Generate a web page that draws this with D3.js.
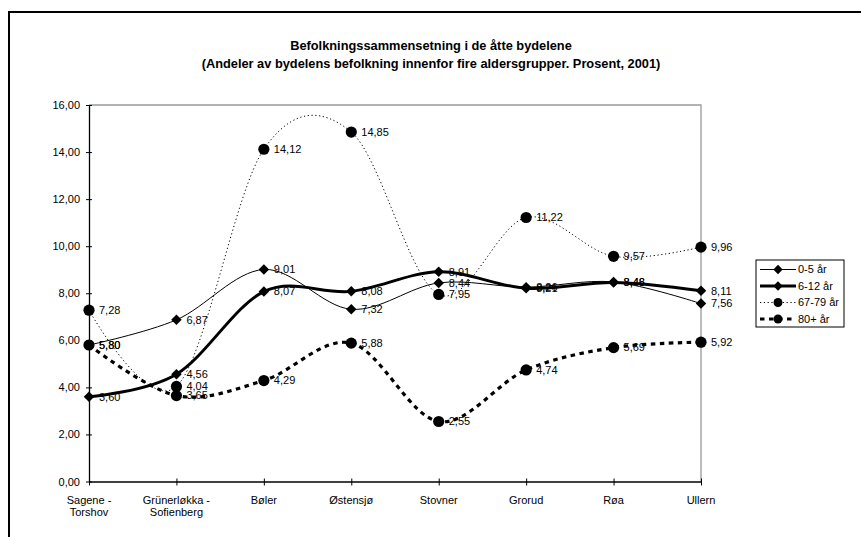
<!DOCTYPE html>
<html><head><meta charset="utf-8">
<script src="https://cdn.jsdelivr.net/npm/d3@7"></script>
<style>
body{margin:0;background:#fff;}
svg text{font-family:"Liberation Sans",Arial,sans-serif;}
</style></head>
<body><svg id="c" width="861" height="537"></svg>
<script>
const categories = [["Sagene -","Torshov"],["Grünerløkka -","Sofienberg"],["Bøler"],["Østensjø"],["Stovner"],["Grorud"],["Røa"],["Ullern"]];
const age0_5   = [5.80, 6.87, 9.01, 7.32, 8.44, 8.26, 8.48, 7.56];
const age6_12  = [3.60, 4.56, 8.07, 8.08, 8.91, 8.21, 8.46, 8.11];
const age67_79 = [7.28, 4.04, 14.12, 14.85, 7.95, 11.22, 9.57, 9.96];
const age80    = [5.80, 3.65, 4.29, 5.88, 2.55, 4.74, 5.69, 5.92];
const seriesNames = ["0-5 år","6-12 år","67-79 år","80+ år"];
const yTicks = [0,2,4,6,8,10,12,14,16];
const titleLines = ["Befolkningssammensetning i de åtte bydelene","(Andeler av bydelens befolkning innenfor fire aldersgrupper. Prosent, 2001)"];

const series = [
  {name:seriesNames[0], values:age0_5, width:1, dash:null, marker:"diamond"},
  {name:seriesNames[1], values:age6_12, width:3, dash:null, marker:"diamond"},
  {name:seriesNames[2], values:age67_79, width:1, dash:"1.2,2.6", marker:"circle"},
  {name:seriesNames[3], values:age80, width:3.2, dash:"4.5,4.5", marker:"circle"}
];

const svg = d3.select("#c");
// outer chart frame
svg.append("rect").attr("x",9).attr("y",12).attr("width",900).attr("height",600)
  .attr("fill","none").attr("stroke","#000").attr("stroke-width",2);

// titles
svg.selectAll("text.title").data(titleLines).join("text")
  .attr("x",431).attr("y",(d,i)=>50+i*18).attr("text-anchor","middle")
  .attr("font-size","12.8px").attr("font-weight","bold").text(d=>d);

const L=89, R=701, T=105, B=481.5;
const x = d3.scalePoint().domain(d3.range(categories.length)).range([L,R]);
const y = d3.scaleLinear().domain([0,16]).range([B,T]);
const fmt = v => d3.format(".2f")(v).replace(".",",");

// plot area border (top & right gray)
svg.append("path").attr("d",`M${L},${T}H${R}V${B}`).attr("fill","none").attr("stroke","#999").attr("stroke-width",1.3);

// y axis
const ya = svg.append("g").attr("transform",`translate(${L},0)`)
  .call(d3.axisLeft(y).tickValues(yTicks).tickFormat(fmt).tickSizeInner(3).tickSizeOuter(0).tickPadding(6));
ya.select(".domain").attr("stroke","#000").attr("stroke-width",1.3);
ya.selectAll(".tick line").attr("x1",3).attr("x2",-3).attr("stroke","#000");
ya.selectAll(".tick text").attr("font-size","11px").attr("fill","#000").attr("font-family","Liberation Sans, Arial, sans-serif");

// x axis
const xa = svg.append("g").attr("transform",`translate(0,${B})`)
  .call(d3.axisBottom(x).tickSizeInner(3).tickSizeOuter(0).tickFormat(""));
xa.select(".domain").attr("stroke","#000").attr("stroke-width",1.3);
xa.selectAll(".tick line").attr("y1",-3).attr("y2",4).attr("stroke","#000");
const xl = svg.append("g");
categories.forEach((lines,i)=>{
  const t = xl.append("text").attr("x",x(i)).attr("y",B+22).attr("text-anchor","middle").attr("font-size","11px");
  lines.forEach((ln,j)=>t.append("tspan").attr("x",x(i)).attr("dy",j?12:0).text(ln));
});

const line = d3.line().x((d,i)=>x(i)).y(d=>y(d)).curve(d3.curveCardinal.tension(0));

function marker(g, type, cx, cy, scale){
  if(type==="diamond"){
    g.append("path").attr("d",d3.symbol().type(d3.symbolSquare).size(55*(scale||1))()).attr("transform",`translate(${cx},${cy}) rotate(45)`).attr("fill","#000");
  } else {
    g.append("circle").attr("cx",cx).attr("cy",cy).attr("r",5.6*(scale||1)).attr("fill","#000");
  }
}

const plot = svg.append("g");
series.forEach(s=>{
  plot.append("path").attr("d",line(s.values)).attr("fill","none").attr("stroke","#000")
    .attr("stroke-width",s.width).attr("stroke-dasharray",s.dash);
});
series.forEach(s=>{
  s.values.forEach((v,i)=>marker(plot,s.marker,x(i),y(v)));
});
series.forEach(s=>{
  plot.selectAll(null).data(s.values).join("text")
    .attr("x",(d,i)=>x(i)+10).attr("y",d=>y(d)).attr("dy","0.35em")
    .attr("font-size","11px").text(d=>fmt(d));
});

// legend
const lg = svg.append("g");
lg.append("rect").attr("x",756).attr("y",260).attr("width",88).attr("height",67).attr("fill","#fff").attr("stroke","#000").attr("stroke-width",1);
series.forEach((s,i)=>{
  const yy = 269.5 + i*16.5;
  lg.append("line").attr("x1",760).attr("x2",796).attr("y1",yy).attr("y2",yy).attr("stroke","#000")
    .attr("stroke-width",s.width).attr("stroke-dasharray",s.dash);
  marker(lg,s.marker,778,yy,0.8);
  lg.append("text").attr("x",798).attr("y",yy).attr("dy","0.35em").attr("font-size","11px").text(s.name);
});
</script></body></html>
